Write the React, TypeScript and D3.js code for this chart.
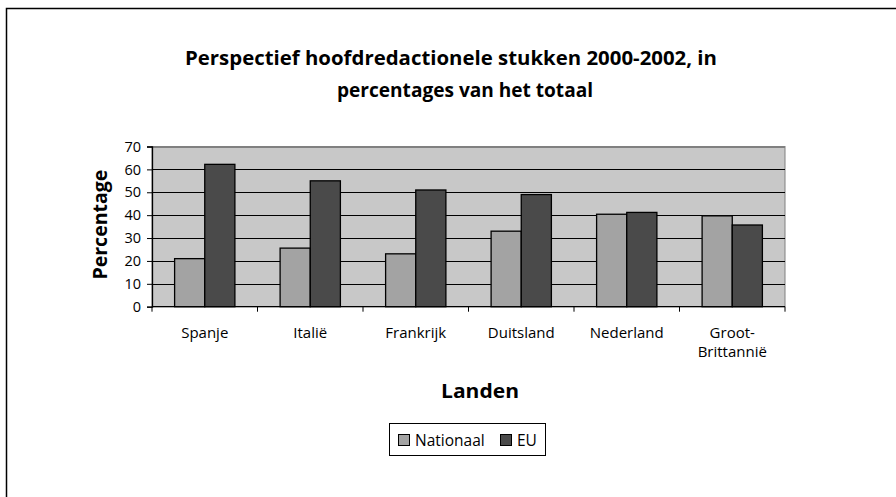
import { useEffect, useRef } from 'react';
import * as d3 from 'd3';

const categories = ['Spanje', 'Italië', 'Frankrijk', 'Duitsland', 'Nederland', 'Groot-\nBrittannië'];
const nationaal = [21, 25.6, 23.1, 33, 40.4, 39.7];
const eu = [62.2, 55, 51, 49, 41.2, 35.7];
const yTicks = [0, 10, 20, 30, 40, 50, 60, 70];
const titleLines = ['Perspectief hoofdredactionele stukken 2000-2002, in', 'percentages van het totaal'];

const SERIES = [
  { label: 'Nationaal', values: nationaal, color: '#a3a3a3' },
  { label: 'EU', values: eu, color: '#4a4a4a' },
];

const FONT = '"Open Sans", "DejaVu Sans", sans-serif';

export default function App() {
  const svgRef = useRef<SVGSVGElement>(null);

  useEffect(() => {
    const svgEl = svgRef.current;
    if (!svgEl) return;
    const svg = d3.select(svgEl);
    svg.selectAll('*').remove();

    const plot = { left: 152, right: 785, top: 146.5, bottom: 306.7 };

    // outer chart frame (runs off the right and bottom edges)
    svg.append('rect')
      .attr('x', 6.5).attr('y', 8.5).attr('width', 1000).attr('height', 1000)
      .attr('fill', '#fff').attr('stroke', '#000').attr('stroke-width', 1.5);

    // title, two lines as in the original
    const titlePos = [{ x: 185, y: 65, w: 532 }, { x: 337, y: 97, w: 256 }];
    titleLines.forEach((t, i) => {
      svg.append('text')
        .attr('x', titlePos[i].x).attr('y', titlePos[i].y)
        .attr('textLength', titlePos[i].w).attr('lengthAdjust', 'spacingAndGlyphs')
        .attr('font-family', FONT).attr('font-weight', 'bold').attr('font-size', 19.5)
        .attr('fill', '#000').text(t);
    });

    const x0 = d3.scaleBand<number>().domain(d3.range(categories.length))
      .range([plot.left, plot.right]).paddingInner(0).paddingOuter(0);
    const y = d3.scaleLinear().domain([0, 70]).range([plot.bottom, plot.top]);
    const barW = x0.bandwidth() / 3.5;

    // plot area
    svg.append('rect')
      .attr('x', plot.left).attr('y', plot.top)
      .attr('width', plot.right - plot.left).attr('height', plot.bottom - plot.top)
      .attr('fill', '#c8c8c8').attr('stroke', '#808080').attr('stroke-width', 1);

    // gridlines
    svg.append('g').selectAll('line').data(yTicks.slice(1)).join('line')
      .attr('x1', plot.left).attr('x2', plot.right)
      .attr('y1', (d) => Math.round(y(d)) + 0.5).attr('y2', (d) => Math.round(y(d)) + 0.5)
      .attr('stroke', (d) => (d === 70 ? '#808080' : '#000')).attr('stroke-width', 1);

    // bars
    SERIES.forEach((s, si) => {
      svg.append('g').selectAll('rect').data(s.values).join('rect')
        .attr('x', (_, i) => (x0(i) ?? 0) + barW * 0.75 + si * barW)
        .attr('y', (d) => y(d))
        .attr('width', barW)
        .attr('height', (d) => plot.bottom - y(d))
        .attr('fill', s.color).attr('stroke', '#000').attr('stroke-width', 1.3);
    });

    // y axis
    const yAxis = svg.append('g').attr('transform', `translate(${plot.left},0)`)
      .call(d3.axisLeft(y).tickValues(yTicks).tickSize(5).tickPadding(6).tickFormat((d) => `${d}`));
    yAxis.select('.domain').attr('stroke', '#000').attr('stroke-width', 1.3);
    yAxis.selectAll('.tick line').attr('stroke', '#000');
    yAxis.selectAll('.tick text').attr('font-family', FONT).attr('font-size', 14.5).attr('fill', '#000');

    // x axis
    svg.append('line')
      .attr('x1', plot.left).attr('x2', plot.right)
      .attr('y1', plot.bottom).attr('y2', plot.bottom)
      .attr('stroke', '#000').attr('stroke-width', 1.3);
    svg.append('g').selectAll('line').data(d3.range(categories.length + 1)).join('line')
      .attr('x1', (i) => plot.left + i * x0.step()).attr('x2', (i) => plot.left + i * x0.step())
      .attr('y1', plot.bottom).attr('y2', plot.bottom + 5)
      .attr('stroke', '#000');

    const catText = svg.append('g').selectAll('text').data(categories).join('text')
      .attr('text-anchor', 'middle').attr('font-family', FONT).attr('font-size', 15).attr('fill', '#000');
    catText.each(function (d, i) {
      const cx = (x0(i) ?? 0) + x0.bandwidth() / 2;
      d.split('\n').forEach((line, li) => {
        d3.select(this).append('tspan').attr('x', cx).attr('y', 338 + li * 19).text(line);
      });
    });

    // axis titles
    svg.append('text')
      .attr('transform', `translate(107,${(plot.top + plot.bottom) / 2 - 2}) rotate(-90)`)
      .attr('text-anchor', 'middle').attr('font-family', FONT).attr('font-weight', 'bold')
      .attr('font-size', 19).attr('textLength', 110).attr('lengthAdjust', 'spacingAndGlyphs')
      .attr('fill', '#000').text('Percentage');
    svg.append('text')
      .attr('x', 480).attr('y', 398).attr('text-anchor', 'middle')
      .attr('font-family', FONT).attr('font-weight', 'bold').attr('font-size', 20)
      .attr('textLength', 78).attr('lengthAdjust', 'spacingAndGlyphs')
      .attr('fill', '#000').text('Landen');

    // legend
    const lg = svg.append('g');
    lg.append('rect').attr('x', 389.5).attr('y', 423.5).attr('width', 156).attr('height', 32)
      .attr('fill', '#fff').attr('stroke', '#000').attr('stroke-width', 1);
    const items = [{ x: 398, s: SERIES[0] }, { x: 500, s: SERIES[1] }];
    items.forEach(({ x, s }) => {
      lg.append('rect').attr('x', x + 0.5).attr('y', 434.5).attr('width', 11).attr('height', 11)
        .attr('fill', s.color).attr('stroke', '#000').attr('stroke-width', 1);
      lg.append('text').attr('x', x + 17).attr('y', 446)
        .attr('font-family', FONT).attr('font-size', 15.5).attr('fill', '#000').text(s.label);
    });
  }, []);

  return (
    <svg
      ref={svgRef}
      width={896}
      height={497}
      style={{ position: 'absolute', left: 0, top: 0, background: '#fff' }}
    />
  );
}
